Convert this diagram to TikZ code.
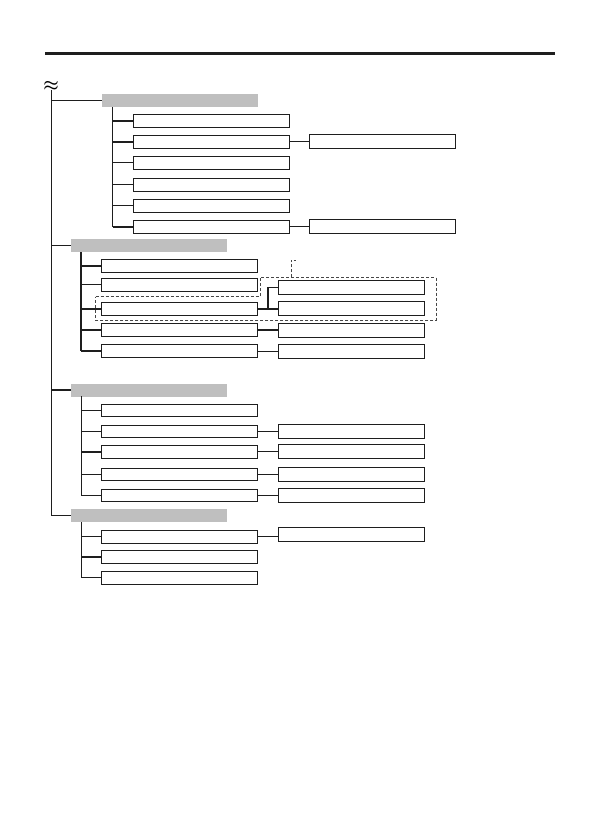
\documentclass[tikz,border=0pt]{standalone}
\usepackage{tikz}
\begin{document}
\begin{tikzpicture}[x=1pt,y=-1pt,
  ink/.style={draw={rgb,255:red,30;green,30;blue,30}},
  hdr/.style={fill={rgb,255:red,191;green,191;blue,191},draw=none,minimum width=156pt,minimum height=13pt,inner sep=0pt},
  lbox/.style={ink,fill=white,line width=0.9pt,minimum width=156pt,minimum height=13pt,inner sep=0pt},
  rbox/.style={ink,fill=white,line width=0.9pt,minimum width=146pt,minimum height=14pt,inner sep=0pt},
  thin/.style={ink,line width=0.8pt},
  thk/.style={ink,line width=1.9pt},
  dsh/.style={draw={rgb,255:red,70;green,70;blue,70},line width=1pt,dash pattern=on 3pt off 2pt}]
\useasboundingbox (0,0) rectangle (595,839);
% top rule
\coordinate (ruleL) at (45,53.5);
\coordinate (ruleR) at (555,53.5);
\draw[ink,line width=2.6pt] (ruleL) -- (ruleR);
% break mark
\node[inner sep=0pt,font=\fontsize{19}{19}\selectfont\boldmath] (brk) at (51,86) {$\approx$};
\coordinate (top) at (51,90);
% headers
\node[hdr] (g1) at (180,100.5) {};
\node[hdr] (g2) at (149,245.5) {};
\node[hdr] (g3) at (149,390) {};
\node[hdr] (g4) at (149,515.5) {};
% main spine
\draw[thin] (top) |- (g4.west);
\draw[thin] (g1.west -| top) -- (g1.west);
\draw[thin] (g2.west -| top) -- (g2.west);
\draw[thk] (g3.west -| top) -- (g3.west);
% ---- group 1
\foreach \i/\y in {1/120.8,2/141.8,3/162.8,4/184.8,5/205.8,6/226.8}
  \node[lbox] (a\i) at (211.5,\y) {};
\node[rbox] (ar2) at (382.5,141.5) {};
\node[rbox] (ar6) at (382.5,226.5) {};
\coordinate (v1) at (112.7,107);
\draw[thin] (v1) -- (a6.west -| v1);
\draw[thk] (a1.west -| v1) -- (a1.west);
\draw[thk] (a2.west -| v1) -- (a2.west);
\draw[thin] (a3.west -| v1) -- (a3.west);
\draw[thin] (a4.west -| v1) -- (a4.west);
\draw[thin] (a5.west -| v1) -- (a5.west);
\draw[thk] (a6.west -| v1) -- (a6.west);
\draw[thin] (a2.east) -- (a2.east -| ar2.west);
\draw[thin] (a6.east) -- (a6.east -| ar6.west);
% ---- group 2
\foreach \i/\y in {1/266,2/284.5,3/308.7,4/330.2,5/351}
  \node[lbox] (b\i) at (179.6,\y) {};
\node[rbox] (brA) at (351.2,287.5) {};
\node[rbox] (brB) at (351.2,308.7) {};
\node[rbox] (brC) at (351.2,330.8) {};
\node[rbox] (brD) at (351.2,351.5) {};
\coordinate (v2) at (81,252);
\draw[thk] (v2) -- (b5.west -| v2);
\foreach \i in {1,...,5} \draw[thk] (b\i.west -| v2) -- (b\i.west);
\coordinate (bp) at (267.7,308.7);
\draw[thk] (b3.east) -- (brB.west);
\draw[thk] (bp) |- (brA.west);
\draw[thk] (b4.east) -- (b4.east -| brC.west);
\draw[thin] (b5.east) -- (b5.east -| brD.west);
% dashed outline
\draw[dsh] (95.7,296.7) -- (260,296.7) -- (260,277.3) -- (436,277.3) -- (436,320) -- (95.7,320) -- cycle;
\draw[dsh] (291,277.3) -- (291,260) -- (295.5,260);
% ---- group 3
\foreach \i/\y in {1/410.3,2/431.3,3/451.8,4/474.3,5/495.5}
  \node[lbox,minimum height=12.5pt] (c\i) at (179.9,\y) {};
\node[rbox] (cr2) at (351.5,431.3) {};
\node[rbox] (cr3) at (351.5,451.6) {};
\node[rbox] (cr4) at (351.5,474.3) {};
\node[rbox] (cr5) at (351.5,495) {};
\coordinate (v3) at (81.3,396);
\draw[thin] (v3) -- (c5.west -| v3);
\draw[thin] (c1.west -| v3) -- (c1.west);
\draw[thin] (c2.west -| v3) -- (c2.west);
\draw[thk] (c3.west -| v3) -- (c3.west);
\draw[thin] (c4.west -| v3) -- (c4.west);
\draw[thin] (c5.west -| v3) -- (c5.west);
\draw[thin] (c2.east) -- (c2.east -| cr2.west);
\draw[thin] (c3.east) -- (c3.east -| cr3.west);
\draw[thin] (c4.east) -- (c4.east -| cr4.west);
\draw[thk] (c5.east) -- (c5.east -| cr5.west);
% ---- group 4
\foreach \i/\y in {1/536.5,2/557,3/577.7}
  \node[lbox] (d\i) at (179.9,\y) {};
\node[rbox] (dr1) at (351.5,534.5) {};
\coordinate (v4) at (81.3,522);
\draw[thin] (v4) -- (d3.west -| v4);
\draw[thin] (d1.west -| v4) -- (d1.west);
\draw[thk] (d2.west -| v4) -- (d2.west);
\draw[thin] (d3.west -| v4) -- (d3.west);
\draw[thin] (d1.east) -- (d1.east -| dr1.west);
\end{tikzpicture}
\end{document}
